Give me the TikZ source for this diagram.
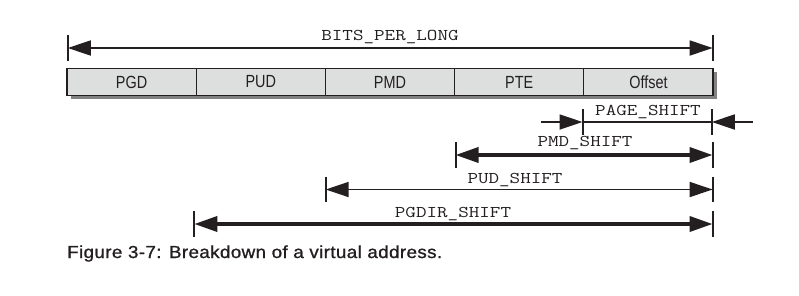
\documentclass[tikz,border=0pt]{standalone}
\usepackage{fontspec}
\usepackage{graphicx}
\setmainfont{Liberation Sans}
\usetikzlibrary{arrows.meta,calc,backgrounds}
\definecolor{ink}{RGB}{35,31,32}
\definecolor{fieldgray}{RGB}{221,223,222}
\definecolor{shadowgray}{RGB}{130,130,130}
\newcommand{\fieldtext}[1]{\scalebox{0.82}[1]{#1}}
\newcommand{\symtext}[1]{\scalebox{1.25}[1]{#1}}
\tikzset{bighead/.tip={Triangle[length=23pt,width=15pt]}}
\begin{document}
\begin{tikzpicture}[x=1pt,y=-1pt,
  field/.style={draw=ink, line width=1.2pt, fill=fieldgray, minimum height=27pt,
    minimum width=129.2pt, inner sep=0pt, outer sep=0pt, text=ink,
    font=\fontsize{17.6}{19}\selectfont},
  symlabel/.style={inner sep=0pt, text=ink, font=\fontsize{16.4}{18}\ttfamily},
  tick/.style={draw=ink, line width=2pt},
  thinspan/.style={draw=ink, line width=1.8pt},
  thickspan/.style={draw=ink, line width=3.6pt},
  caption/.style={inner sep=0pt, anchor=base west, text=ink,
    font=\fontsize{17.4}{19}\selectfont\addfontfeature{LetterSpace=2,FakeBold=1}}]
\useasboundingbox (0,0) rectangle (799,295);

% address fields
\node[field] (pgd) at (131.6,82) {\fieldtext{PGD}};
\node[field, anchor=west] (pud) at (pgd.east) {\fieldtext{PUD}};
\node[field, anchor=west] (pmd) at (pud.east) {\fieldtext{PMD}};
\node[field, anchor=west] (pte) at (pmd.east) {\fieldtext{PTE}};
\node[field, anchor=west] (off) at (pte.east) {\fieldtext{Offset}};
\begin{scope}[on background layer]
  \fill[shadowgray] ($(pgd.north west)+(3.5,3.5)$) rectangle ($(off.south east)+(3.5,3.5)$);
\end{scope}

% dimension end points
\coordinate (bitsL) at (67.8,48);   \coordinate (bitsR) at (712.6,48);
\coordinate (pageL) at (582.5,122); \coordinate (pageR) at (711.8,122);
\coordinate (pageInL) at (541,122); \coordinate (pageInR) at (753,122);
\coordinate (pmdL) at (455.5,155);  \coordinate (pmdR) at (712.6,155);
\coordinate (pudL) at (325.7,189.5);\coordinate (pudR) at (712.6,189.5);
\coordinate (pgdirL) at (194.3,224);\coordinate (pgdirR) at (712.6,224);

% end ticks
\foreach \p in {bitsL,bitsR,pageL,pageR,pmdL,pmdR,pudL,pudR,pgdirL,pgdirR}
  \draw[tick] ($(\p)+(0,-12.8)$) -- ($(\p)+(0,12.8)$);

% spans
\draw[thinspan, bighead-bighead] (bitsL) -- (bitsR);
\draw[thinspan] (pageL) -- (pageR);
\draw[thinspan, -bighead] (pageInL) -- (pageL);
\draw[thinspan, -bighead] (pageInR) -- (pageR);
\draw[thickspan, bighead-bighead] (pmdL) -- (pmdR);
\draw[thinspan, bighead-bighead] (pudL) -- (pudR);
\draw[thickspan, bighead-bighead] (pgdirL) -- (pgdirR);

% span labels
\node[symlabel] (bitslbl)  at (390,37)    {\symtext{BITS\_PER\_LONG}};
\node[symlabel] (pagelbl)  at (648,112)   {\symtext{PAGE\_SHIFT}};
\node[symlabel] (pmdlbl)   at (585,143.5) {\symtext{PMD\_SHIFT}};
\node[symlabel] (pudlbl)   at (515,180.5) {\symtext{PUD\_SHIFT}};
\node[symlabel] (pgdirlbl) at (453,214)   {\symtext{PGDIR\_SHIFT}};

% caption
\node[caption] (cap) at (67,258) {\resizebox{375pt}{\height}{Figure 3-7: Breakdown of a virtual address.}};
\end{tikzpicture}
\end{document}
